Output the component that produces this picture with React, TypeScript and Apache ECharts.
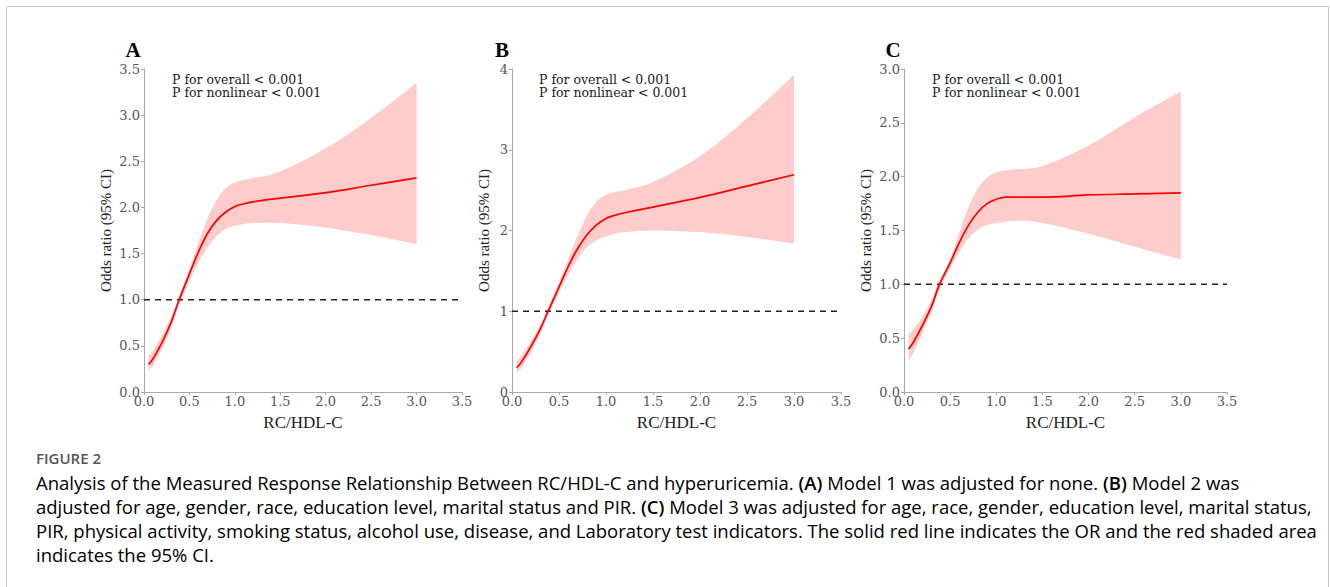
import React, { useEffect, useRef } from "react";
import * as echarts from "echarts";

const xs = [0.05, 0.1, 0.2, 0.3, 0.38, 0.5, 0.6, 0.7, 0.8, 0.9, 1.0, 1.1, 1.2, 1.5, 2.0, 2.5, 3.0];

const orA = [0.3, 0.36, 0.54, 0.76, 0.98, 1.28, 1.52, 1.72, 1.86, 1.95, 2.01, 2.04, 2.06, 2.1, 2.16, 2.24, 2.32];
const upA = [0.39, 0.45, 0.62, 0.82, 1.02, 1.34, 1.62, 1.88, 2.08, 2.21, 2.27, 2.3, 2.32, 2.39, 2.64, 2.97, 3.35];
const loA = [0.23, 0.29, 0.47, 0.7, 0.93, 1.2, 1.41, 1.57, 1.69, 1.77, 1.8, 1.82, 1.83, 1.83, 1.78, 1.7, 1.6];

const orB = [0.3, 0.37, 0.56, 0.78, 0.99, 1.3, 1.56, 1.78, 1.95, 2.07, 2.15, 2.19, 2.22, 2.29, 2.41, 2.55, 2.69];
const upB = [0.39, 0.45, 0.63, 0.83, 1.03, 1.36, 1.65, 1.94, 2.19, 2.36, 2.44, 2.48, 2.5, 2.6, 2.92, 3.39, 3.93];
const loB = [0.23, 0.3, 0.49, 0.72, 0.94, 1.23, 1.46, 1.65, 1.8, 1.88, 1.93, 1.96, 1.98, 2.0, 1.98, 1.92, 1.84];

const orC = [0.4, 0.46, 0.62, 0.8, 0.99, 1.2, 1.39, 1.55, 1.67, 1.75, 1.79, 1.81, 1.81, 1.81, 1.83, 1.84, 1.85];
const upC = [0.54, 0.58, 0.7, 0.86, 1.03, 1.24, 1.48, 1.72, 1.89, 1.99, 2.04, 2.06, 2.07, 2.1, 2.29, 2.55, 2.79];
const loC = [0.29, 0.36, 0.55, 0.75, 0.95, 1.15, 1.3, 1.43, 1.51, 1.55, 1.57, 1.58, 1.59, 1.57, 1.47, 1.35, 1.23];

const panelLetters = ["A", "B", "C"];
const yMax = [3.5, 4, 3];
const yInterval = [0.5, 1, 0.5];
const yDecimals = [1, 0, 1];
const refLine = 1;
const xName = "RC/HDL-C";
const yName = "Odds ratio (95% CI)";
const pOverall = "P for overall < 0.001";
const pNonlinear = "P for nonlinear < 0.001";

const captionTitle = "FIGURE 2";
const captionLines: [string, string][][] = [
  [
    ["n", "Analysis of the Measured Response Relationship Between RC/HDL-C and hyperuricemia. "],
    ["b", "(A)"],
    ["n", " Model 1 was adjusted for none. "],
    ["b", "(B)"],
    ["n", " Model 2 was"],
  ],
  [
    ["n", "adjusted for age, gender, race, education level, marital status and PIR. "],
    ["b", "(C)"],
    ["n", " Model 3 was adjusted for age, race, gender, education level, marital status,"],
  ],
  [["n", "PIR, physical activity, smoking status, alcohol use, disease, and Laboratory test indicators. The solid red line indicates the OR and the red shaded area"]],
  [["n", "indicates the 95% CI."]],
];

const grids = [
  { left: 144, top: 69, width: 318, height: 323 },
  { left: 512, top: 69, width: 329, height: 323 },
  { left: 904, top: 69, width: 323, height: 323 },
];
const yNameGap = [31, 21, 31];

const serif = "'Liberation Serif', 'Times New Roman', serif";
const tickFont = "'DejaVu Serif', serif";
const sans = "'Open Sans', 'Noto Sans', sans-serif";

// Catmull-Rom spline through pixel points, as SVG path commands (no leading M)
function splineSegs(pts: number[][]): string {
  let d = "";
  const n = pts.length;
  for (let i = 0; i < n - 1; i++) {
    const p0 = pts[Math.max(0, i - 1)];
    const p1 = pts[i];
    const p2 = pts[i + 1];
    const p3 = pts[Math.min(n - 1, i + 2)];
    const c1x = p1[0] + (p2[0] - p0[0]) / 6;
    const c1y = p1[1] + (p2[1] - p0[1]) / 6;
    const c2x = p2[0] - (p3[0] - p1[0]) / 6;
    const c2y = p2[1] - (p3[1] - p1[1]) / 6;
    d += ` C ${c1x.toFixed(2)} ${c1y.toFixed(2)} ${c2x.toFixed(2)} ${c2y.toFixed(2)} ${p2[0].toFixed(2)} ${p2[1].toFixed(2)}`;
  }
  return d;
}

export default function App() {
  const ref = useRef<HTMLDivElement>(null);
  useEffect(() => {
    if (!ref.current) return;
    const chart = echarts.init(ref.current, undefined, { renderer: "svg" });
    const panels = [
      { or: orA, up: upA, lo: loA },
      { or: orB, up: upB, lo: loB },
      { or: orC, up: upC, lo: loC },
    ];
    const xAxis: any[] = [];
    const yAxis: any[] = [];
    const series: any[] = [];
    const graphic: any[] = [];
    panels.forEach((p, i) => {
      xAxis.push({
        gridIndex: i,
        type: "value",
        min: 0,
        max: 3.5,
        interval: 0.5,
        name: xName,
        nameLocation: "middle",
        nameGap: 22,
        nameTextStyle: { fontFamily: serif, fontSize: 17, color: "#222" },
        axisLine: { show: true, lineStyle: { color: "#aaa", width: 1 } },
        axisTick: { show: true, length: 3, lineStyle: { color: "#aaa" } },
        axisLabel: {
          fontFamily: tickFont,
          fontSize: 13,
          color: "#555",
          margin: 3,
          formatter: (v: number) => v.toFixed(1),
        },
        splitLine: { show: false },
      });
      yAxis.push({
        gridIndex: i,
        type: "value",
        min: 0,
        max: yMax[i],
        interval: yInterval[i],
        name: yName,
        nameLocation: "middle",
        nameRotate: 90,
        nameGap: yNameGap[i],
        nameTextStyle: { fontFamily: serif, fontSize: 15, color: "#222" },
        axisLine: { show: true, lineStyle: { color: "#aaa", width: 1 } },
        axisTick: { show: true, length: 3, lineStyle: { color: "#aaa" } },
        axisLabel: {
          fontFamily: tickFont,
          fontSize: 13,
          color: "#555",
          margin: 4,
          formatter: (v: number) => v.toFixed(yDecimals[i]),
        },
        splitLine: { show: false },
      });
      series.push({
        type: "custom",
        coordinateSystem: "cartesian2d",
        xAxisIndex: i,
        yAxisIndex: i,
        data: [[xs[0], p.or[0]]],
        silent: true,
        z: 1,
        renderItem: (_params: any, api: any) => {
          const up = xs.map((x, k) => api.coord([x, p.up[k]]));
          const lo = xs.map((x, k) => api.coord([x, p.lo[k]])).reverse();
          const d =
            `M ${up[0][0].toFixed(2)} ${up[0][1].toFixed(2)}` +
            splineSegs(up) +
            ` L ${lo[0][0].toFixed(2)} ${lo[0][1].toFixed(2)}` +
            splineSegs(lo) +
            " Z";
          return {
            type: "path",
            shape: { pathData: d },
            style: { fill: "#ffcccc", stroke: "none" },
          };
        },
      });
      series.push({
        type: "line",
        xAxisIndex: i,
        yAxisIndex: i,
        data: [
          [0, refLine],
          [3.5, refLine],
        ],
        symbol: "none",
        lineStyle: { color: "#222", width: 1.5, type: [6, 5] },
        silent: true,
        z: 3,
      });
      series.push({
        type: "line",
        xAxisIndex: i,
        yAxisIndex: i,
        data: xs.map((x, k) => [x, p.or[k]]),
        symbol: "none",
        smooth: 0.4,
        lineStyle: { color: "#ff0000", width: 1.7 },
        silent: true,
        z: 4,
      });
      const g = grids[i];
      graphic.push({
        type: "text",
        x: g.left - (i === 1 ? 10 : 11),
        y: 50,
        style: {
          text: panelLetters[i],
          font: `bold 21px ${serif}`,
          fill: "#000",
          align: "center",
          verticalAlign: "middle",
        },
      });
      graphic.push({
        type: "text",
        x: g.left + (i === 1 ? 27 : 28),
        y: 73,
        style: {
          text: pOverall + "\n" + pNonlinear,
          font: `12.5px ${tickFont}`,
          lineHeight: 13,
          fill: "#222",
          align: "left",
          verticalAlign: "top",
        },
      });
    });

    graphic.push({
      type: "rect",
      shape: { x: 6.5, y: 6.5, width: 1322, height: 600 },
      style: { fill: "none", stroke: "#cccccc", lineWidth: 1 },
      silent: true,
    });
    graphic.push({
      type: "text",
      x: 36,
      y: 458,
      style: {
        text: captionTitle,
        font: `600 15px ${sans}`,
        fill: "#555",
        verticalAlign: "middle",
      },
    });
    captionLines.forEach((segs, li) => {
      graphic.push({
        type: "text",
        x: 36,
        y: 482 + li * 24,
        style: {
          text: segs.map(([k, t]) => `{${k}|${t}}`).join(""),
          verticalAlign: "middle",
          rich: {
            n: { fontFamily: sans, fontSize: 18.5, fontWeight: 400, color: "#6b6b6b" },
            b: { fontFamily: sans, fontSize: 18.5, fontWeight: 600, color: "#555" },
          },
        },
      });
    });

    chart.setOption({
      animation: false,
      backgroundColor: "#fff",
      grid: grids.map((g) => ({ ...g, containLabel: false })),
      xAxis,
      yAxis,
      series,
      graphic,
    });
    return () => chart.dispose();
  }, []);
  return (
    <div
      ref={ref}
      style={{ position: "fixed", left: 0, top: 0, width: 1330, height: 587 }}
    />
  );
}
